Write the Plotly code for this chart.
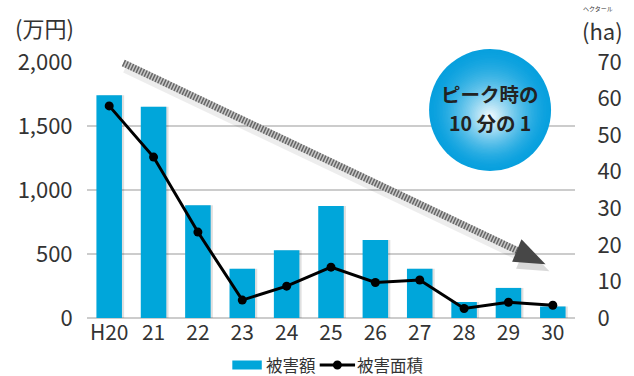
import plotly.graph_objects as go

# ---- data ----
categories = ["H20", "21", "22", "23", "24", "25", "26", "27", "28", "29", "30"]
damage_amount = [1740, 1650, 880, 385, 530, 875, 610, 385, 125, 235, 90]     # 万円
damage_area = [58.0, 44.0, 23.5, 4.9, 8.7, 13.9, 9.7, 10.4, 2.6, 4.3, 3.5]  # ha
left_ticks = [0, 500, 1000, 1500, 2000]
right_ticks = [0, 10, 20, 30, 40, 50, 60, 70]

W, H = 634, 376
L, R, T, B = 87, 50, 62, 58
PW, PH = W - L - R, H - T - B

def px(x):
    return (x - L) / PW

def py(y):
    return (H - B - y) / PH

BAR_COLOR = "#00A6DA"
FONT = "Noto Sans CJK JP, Noto Sans, sans-serif"
TXT = "#333333"

fig = go.Figure()

bw = 26 / (PW / len(categories))
# soft shadow of bars
fig.add_trace(go.Bar(
    x=categories, y=damage_amount, width=bw, offset=-bw / 2 + 0.05,
    marker=dict(color="rgba(0,0,0,0.12)", line=dict(width=0)),
    showlegend=False, hoverinfo="skip"))
fig.add_trace(go.Bar(
    x=categories, y=damage_amount, width=bw, offset=-bw / 2,
    marker=dict(color=BAR_COLOR, line=dict(width=0)),
    name="被害額", showlegend=False))
fig.add_trace(go.Scatter(
    x=categories, y=damage_area, yaxis="y2", mode="lines+markers",
    line=dict(color="#000000", width=3),
    marker=dict(color="#000000", size=9),
    name="被害面積", showlegend=False))

shapes = []

# ---- arrow (decoration) ----
sx0, sy0 = 124, 63
bx, by = 525, 250.5
tip = (554, 264.3)
c1 = (529.5, 239.3)
c2 = (520, 261.7)
shapes.append(dict(type="line", xref="paper", yref="paper",
                   x0=px(sx0 + 2), y0=py(sy0 + 5), x1=px(bx + 2), y1=py(by + 5),
                   line=dict(color="rgba(0,0,0,0.07)", width=10), layer="above"))
shapes.append(dict(type="line", xref="paper", yref="paper",
                   x0=px(sx0), y0=py(sy0), x1=px(bx), y1=py(by),
                   line=dict(color="#c8c8c8", width=7), layer="above"))
shapes.append(dict(type="line", xref="paper", yref="paper",
                   x0=px(sx0), y0=py(sy0), x1=px(bx), y1=py(by),
                   line=dict(color="#666666", width=7, dash="1.5px,1.5px"), layer="above"))

def tri(pts, dx=0, dy=0):
    return "M " + " L ".join(f"{px(x + dx)},{py(y + dy)}" for x, y in pts) + " Z"

shapes.append(dict(type="path", xref="paper", yref="paper",
                   path=tri([c1, tip, c2], 4, 7),
                   fillcolor="rgba(0,0,0,0.15)", line=dict(width=0), layer="above"))
shapes.append(dict(type="path", xref="paper", yref="paper",
                   path=tri([c1, tip, c2]),
                   fillcolor="#474747", line=dict(width=0), layer="above"))

# ---- gradient circle (decoration) ----
cx, cy, rad = 497.5, 110, 61
N = 40
outer = (8, 160, 222)
for i in range(N):
    t = i / N
    r = rad * (1 - t)
    k = t ** 1.6
    col = tuple(int(round(o + (255 - o) * k)) for o in outer)
    ccy = cy + 8 * t
    shapes.append(dict(type="circle", xref="paper", yref="paper",
                       xsizemode="pixel", ysizemode="pixel",
                       xanchor=px(cx), yanchor=py(ccy),
                       x0=-r, x1=r, y0=-r, y1=r,
                       fillcolor=f"rgb{col}", line=dict(width=0), layer="above"))

# ---- manual legend ----
LY = 365
shapes.append(dict(type="rect", xref="paper", yref="paper",
                   x0=px(235), x1=px(265), y0=py(LY + 4.5), y1=py(LY - 4.5),
                   fillcolor=BAR_COLOR, line=dict(width=0)))
shapes.append(dict(type="line", xref="paper", yref="paper",
                   x0=px(324), x1=px(360), y0=py(LY), y1=py(LY),
                   line=dict(color="#000", width=3)))
shapes.append(dict(type="circle", xref="paper", yref="paper",
                   xsizemode="pixel", ysizemode="pixel",
                   xanchor=px(342), yanchor=py(LY),
                   x0=-4.5, x1=4.5, y0=-4.5, y1=4.5,
                   fillcolor="#000", line=dict(width=0)))

def ann(text, x, y, size, xanchor="center", color=TXT, bold=False):
    f = dict(family=FONT, size=size, color=color)
    if bold:
        f["weight"] = "bold"
    return dict(text=text, x=px(x), y=py(y), xref="paper", yref="paper",
                xanchor=xanchor, yanchor="middle", showarrow=False, font=f)

annotations = [
    ann("ピーク時の", cx, 93, 19.5, color="#222222", bold=True),
    ann("10 分の 1", cx, 122, 19.5, color="#222222", bold=True),
    ann("(万円)", 44, 27, 22),
    ann("(ha)", 635, 30, 22, xanchor="right"),
    ann("ヘクタール", 607, 8, 6),
    ann("被害額", 267, LY - 0.5, 16.5, xanchor="left"),
    ann("被害面積", 360, LY - 0.5, 16.5, xanchor="left"),
]

fig.update_layout(
    width=W, height=H,
    margin=dict(l=L, r=R, t=T, b=B, pad=0),
    paper_bgcolor="white", plot_bgcolor="white",
    barmode="overlay",
    showlegend=False,
    hovermode=False,
    font=dict(family=FONT, size=22, color=TXT),
    xaxis=dict(type="category", categoryarray=categories, showgrid=False,
               showline=False, zeroline=False, ticks="", 
               tickfont=dict(size=21, color=TXT),
               range=[-0.5, len(categories) - 0.5]),
    yaxis=dict(range=[0, 2000], tickvals=left_ticks, tickformat=",d",
               showgrid=True, gridcolor="#cccccc", gridwidth=1.5,
               zeroline=True, zerolinecolor="#cccccc", zerolinewidth=1.5,
               showline=False, ticks="outside", ticklen=9,
               tickcolor="rgba(0,0,0,0)", tickfont=dict(size=22, color=TXT)),
    yaxis2=dict(range=[0, 70], tickvals=right_ticks, overlaying="y", side="right",
                showgrid=False, zeroline=False, showline=False,
                ticks="outside", ticklen=17, tickcolor="rgba(0,0,0,0)",
                tickfont=dict(size=22, color=TXT)),
    shapes=shapes,
    annotations=annotations,
)

fig.write_html("out.html")
